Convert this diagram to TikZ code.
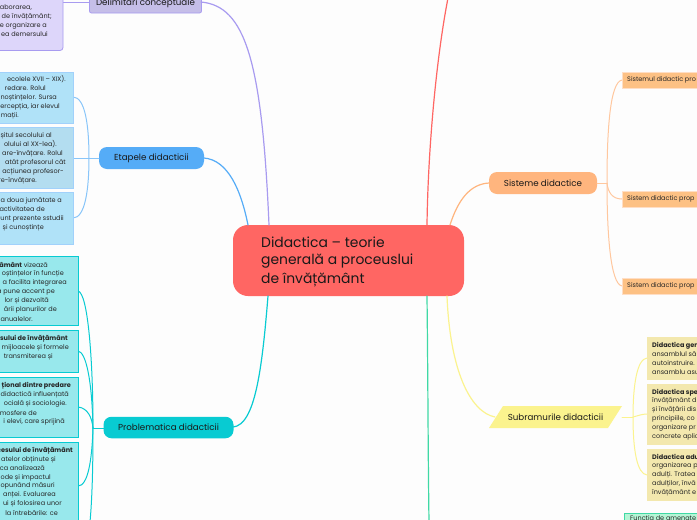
\documentclass[tikz,border=0pt]{standalone}
\usepackage{fontspec}
\setmainfont{Poppins}
\definecolor{bgc}{HTML}{FDFDFD}
\definecolor{redc}{HTML}{FF6663}
\definecolor{purpl}{HTML}{A89BF0}
\definecolor{purpf}{HTML}{C5BEE8}
\definecolor{purpb}{HTML}{DDD6FA}
\definecolor{bluel}{HTML}{55ACF7}
\definecolor{bluef}{HTML}{B0E2F8}
\definecolor{blueg}{HTML}{B3DDF0}
\definecolor{cyanl}{HTML}{08CBD2}
\definecolor{cyanb}{HTML}{98E8EC}
\definecolor{orl}{HTML}{FFB57E}
\definecolor{orb}{HTML}{FDC184}
\definecolor{yell}{HTML}{FBF38E}
\definecolor{yelb}{HTML}{F3E8AE}
\definecolor{grnl}{HTML}{3FD9A5}
\definecolor{grnb}{HTML}{B5F5D5}
\tikzset{
 lnk/.style={line width=1pt,line cap=round},
 branch/.style={line width=1.2pt,line cap=round},
 pill/.style={rounded corners=8pt,draw=none,inner sep=0pt},
 boxr/.style={anchor=east,inner sep=0pt,font=\fontsize{6.5}{8}\selectfont,text=black!85},
 boxl/.style={anchor=west,inner sep=0pt,font=\fontsize{6.5}{8}\selectfont,text=black!85},
 lab/.style={inner sep=0pt,font=\fontsize{8.7}{11}\selectfont,text=black!90},
 maintxt/.style={anchor=west,inner sep=0pt,font=\fontsize{13.9}{19}\selectfont,text=black!90},
}
\newcommand{\tr}[3]{\node[boxr] at (#1,#2) {#3};}
\newcommand{\tb}[3]{\node[boxr] at (#1,#2) {\textbf{#3}};}
\newcommand{\tl}[3]{\node[boxl] at (#1,#2) {#3};}
\newcommand{\tlb}[3]{\node[boxl] at (#1,#2) {\textbf{#3}};}
\begin{document}
\begin{tikzpicture}[x=1pt,y=-1pt]
\useasboundingbox (0,0) rectangle (697,520);
\clip (0,0) rectangle (697,520);
\fill[bgc] (0,0) rectangle (697,520);
% central node
\node[fill=redc,rounded corners=15pt,minimum width=231pt,minimum height=71pt,inner sep=0pt] (ctr) at (348.5,260.5) {};
\node[maintxt] at (261,242) {Didactica – teorie};
\node[maintxt] at (261,261) {generală a proceuslui};
\node[maintxt] at (261,280) {de învățământ};
\coordinate (cDel) at (269,225);
\coordinate (cEta) at (248,225);
\coordinate (cPro) at (268,296);
\coordinate (cRed) at (427,225);
\coordinate (cTop) at (448,-2);
\coordinate (cSis) at (450,225);
\coordinate (cGrn) at (427,296);
\coordinate (cBot) at (429,522);
\coordinate (cSub) at (447,296);
% branch nodes
\node[draw=purpl,fill=purpf,line width=.8pt,rounded corners=2pt,minimum width=112pt,minimum height=24pt,inner sep=0pt] (dn) at (145.5,1) {};
\node[lab] at (145.5,3) {Delimitări conceptuale};
\node[pill,fill=bluel,minimum width=105pt,minimum height=22pt] (eta) at (151.5,158) {};
\node[lab] at (eta) {Etapele didacticii};
\node[pill,fill=cyanl,minimum width=130pt,minimum height=21.5pt] (pro) at (168.5,427.5) {};
\node[lab] at (pro) {Problematica didacticii};
\node[pill,fill=orl,minimum width=108pt,minimum height=22pt] (sis) at (543,183) {};
\node[lab] at (sis) {Sisteme didactice};
\fill[yell] (489,428) -- (503,406) -- (622,406) -- (608,428) -- cycle;
\coordinate (sb) at (555.5,417);
\node[lab] at (sb) {Subramurile didacticii};
% main branches
\draw[branch,purpl] (201,2) .. controls (245,6) and (262,60) .. (cDel);
\draw[branch,bluel] (204,158) .. controls (228,160) and (241,190) .. (cEta);
\draw[branch,cyanl] (233,427) .. controls (255,425) and (262,370) .. (cPro);
\draw[branch,redc] (cRed) .. controls (428,150) and (436,60) .. (cTop);
\draw[branch,orl] (cSis) .. controls (458,200) and (470,184) .. (489,183);
\draw[branch,grnl] (cGrn) .. controls (428,380) and (428,450) .. (cBot);
\draw[branch,yell] (cSub) .. controls (450,370) and (470,412) .. (495,417);
% brackets
\draw[lnk,purpl] (63,2) -- (89,2);
\draw[lnk,bluel!70] (73,97) .. controls (85,97) and (89,125) .. (89,158) .. controls (89,190) and (85,218) .. (73,218);
\draw[lnk,bluel!70] (73,158) -- (99,158);
\draw[lnk,cyanl] (78,291) .. controls (88,293) and (93,360) .. (93,428);
\draw[lnk,cyanl] (78,351) .. controls (86,352) and (92,380) .. (93,428);
\draw[lnk,cyanl] (78,407) .. controls (88,408) and (92,418) .. (93,428);
\draw[lnk,cyanl] (78,486) .. controls (88,486) and (92,460) .. (93,428);
\draw[lnk,cyanl] (93,428) .. controls (93,470) and (92,500) .. (90,522);
\draw[lnk,cyanl] (93,428) -- (104,428);
\draw[lnk,orl!75] (597,183) -- (607,183);
\draw[lnk,orl!75] (622,80) .. controls (610,82) and (607,130) .. (607,183) .. controls (607,230) and (610,284) .. (622,286);
\draw[lnk,orl!75] (607,183) .. controls (608,192) and (612,199) .. (622,199);
\draw[lnk,yell] (622,417) -- (633,417);
\draw[lnk,yell] (647,358) .. controls (637,359) and (633,385) .. (633,417) .. controls (633,450) and (637,474) .. (647,475);
\draw[lnk,yell] (633,417) .. controls (637,416) and (642,414) .. (647,414);
% purple leaf
\fill[purpb,draw=purpl,line width=.8pt,rounded corners=3pt] (-10,-20) rectangle (63,50.5);
\tr{32}{8}{aborarea,}\tr{52}{17}{de învățământ;}\tr{47}{25.5}{e organizare a}\tr{48}{34}{ea demersului}
% blue leaves
\fill[bluef,draw=bluel!55,line width=1pt] (-5,72) rectangle (73,123);
\fill[blueg,draw=bluel!55,line width=1pt] (-5,127.5) rectangle (73,188);
\fill[bluef,draw=bluel!55,line width=1pt] (-5,192.5) rectangle (73,244);
\tr{66}{79.5}{ecolele XVII – XIX).}\tr{46}{88.5}{redare. Rolul}\tr{57}{97.5}{noștințelor. Sursa}\tr{60}{106.5}{ercepția, iar elevul}\tr{19}{115.5}{mații.}
\tr{52}{135.5}{șitul secolului al}\tr{57}{144.5}{olului al XX-lea).}\tr{63}{153.5}{are-învățare. Rolul}\tr{66}{163}{atât profesorul cât}\tr{64}{172}{acțiunea profesor-}\tr{37}{181}{re-învățare.}
\tr{62}{200.5}{a doua jumătate a}\tr{45}{209.5}{activitatea de}\tr{64}{218.5}{unt prezente sstudii}\tr{44}{227.5}{și cunoștințe}
% cyan leaves
\fill[cyanb,draw=cyanl,line width=1pt] (-5,256.5) rectangle (78,325);
\fill[cyanb,draw=cyanl,line width=1pt] (-5,330.5) rectangle (78,372);
\fill[cyanb,draw=cyanl,line width=1pt] (-5,377.5) rectangle (78,437);
\fill[cyanb,draw=cyanl,line width=1pt] (-5,442.5) rectangle (78,530);
\node[boxr] at (48,264.7) {\textbf{âmânt} vizează};
\tr{64}{273.7}{oștințelor în funcție}\tr{67}{282.7}{a facilita integrarea}\tr{55}{291.7}{a pune accent pe}\tr{49}{300.7}{lor și dezvoltă}\tr{57}{309.7}{ării planurilor de}\tr{33}{318.7}{anualelor.}
\tb{68}{338.7}{esului de învățământ}\tr{69}{347.7}{mijloacele și formele}\tr{53}{356.7}{transmiterea și}
\tb{71}{385.7}{țional dintre predare}\tr{69}{394.7}{didactică influențată}\tr{67}{403.7}{ocială și sociologie.}\tr{37}{412.7}{mosfere de}\tr{65}{421.7}{i elevi, care sprijină}
\tb{73}{450.7}{cesului de învățământ}\tr{56}{459.7}{atelor obținute și}\tr{45}{468.5}{ca analizează}\tr{51}{477.5}{ode și impactul}\tr{55}{486}{opunând măsuri}\tr{56}{495}{anței. Evaluarea}\tr{62}{504}{ui și folosirea unor}\tr{58}{513}{la întrebările: ce}
% orange leaves
\fill[orb,draw=orl!45,line width=.8pt] (622,72) rectangle (705,88);
\fill[orb,draw=orl!45,line width=.8pt] (622,191) rectangle (705,207);
\fill[orb,draw=orl!45,line width=.8pt] (622,278) rectangle (705,294);
\tl{627}{79.5}{Sistemul didactic pro}\tl{627}{198.5}{Sistem didactic prop}\tl{627}{286}{Sistem didactic prop}
% yellow leaves
\fill[yelb] (647,337) rectangle (705,380);
\fill[yelb] (647,384) rectangle (705,445);
\fill[yelb] (647,449) rectangle (705,501);
\tlb{652}{345.3}{Didactica gen}\tl{652}{354.3}{ansamblul să}\tl{652}{363.3}{autoinstruire.}\tl{652}{372.3}{ansamblu asu}
\tlb{652}{392.3}{Didactica spe}\tl{652}{401.3}{învățământ d}\tl{652}{410.3}{și învățării dis}\tl{652}{419.3}{principiile, co}\tl{652}{428.3}{organizare pr}\tl{652}{437.3}{concrete aplic}
\tlb{652}{457.3}{Didactica adu}\tl{652}{466.3}{organizarea p}\tl{652}{475.3}{adulți. Tratea}\tl{652}{484.3}{adulților, învă}\tl{652}{493.3}{învățământ e}
% green leaf
\fill[grnb,draw=grnl,line width=.8pt] (624.5,513.5) rectangle (705,530);
\tl{630}{519}{Funcția de amenate}
\end{tikzpicture}
\end{document}
